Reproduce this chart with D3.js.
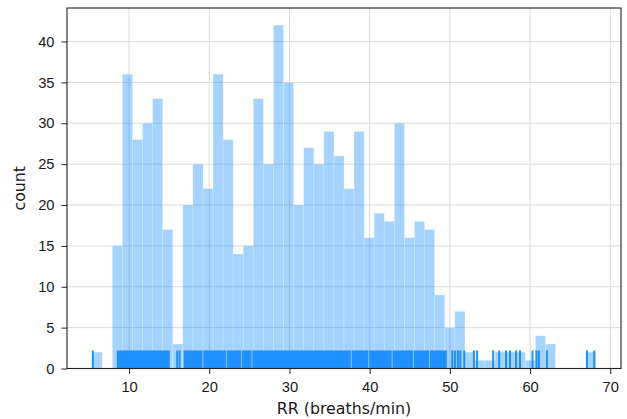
<!DOCTYPE html>
<html>
<head>
<meta charset="utf-8">
<script src="https://cdn.jsdelivr.net/npm/d3@7"></script>
<style>
  body { margin: 0; background: #fff; }
  svg { font-family: "DejaVu Sans", sans-serif; }
  .tick text { font-size: 14.7px; fill: #1a1a1a; }
  .axisTitle { font-size: 15.8px; fill: #1a1a1a; }
</style>
</head>
<body>
<div id="chart"></div>
<script>
// histogram: 50 bins starting at 5.4, width 1.256
var binStart = 5.4;
var binWidth = 1.256;
var counts = [2, 0, 15, 36, 28, 30, 33, 17, 3, 20,
              25, 22, 36, 28, 14, 15, 33, 25, 42, 35,
              20, 27, 25, 29, 26, 22, 29, 16, 19, 18,
              30, 16, 18, 17, 9, 5, 7, 2, 1, 1,
              2, 2, 2, 1, 4, 3, 0, 0, 0, 2];

// rug: solid stretches where ticks overlap, plus single ticks
var rugSpans = [[8.47, 15.07], [16.8, 19.16], [19.26, 22.08], [22.18, 23.95],
                [24.05, 25.27], [25.37, 37.65], [37.75, 39.84], [39.94, 42.75],
                [42.85, 45.40], [45.50, 47.40], [47.50, 49.62]];
var rugTicks = [5.48, 16.0, 16.3, 50.3, 50.65, 51.0, 51.3, 51.8, 53.0, 53.4,
                55.4, 56.15, 57.0, 57.5, 58.25, 58.75, 60.3, 60.8, 61.1, 62.1,
                67.1, 68.0];

var xTicks = [10, 20, 30, 40, 50, 60, 70];
var yTicks = [0, 5, 10, 15, 20, 25, 30, 35, 40];

var W = 627, H = 419;
var margin = {top: 8, right: 6, bottom: 50.5, left: 67},
    width = W - margin.left - margin.right,
    height = H - margin.top - margin.bottom;

var bins = counts.map(function(c, i) {
  return {x0: binStart + i * binWidth, x1: binStart + (i + 1) * binWidth, n: c};
});

var lo = binStart, hi = binStart + counts.length * binWidth;
var pad = 0.05 * (hi - lo);
var x = d3.scaleLinear().domain([lo - pad, hi + pad]).range([0, width]);
var y = d3.scaleLinear().domain([0, d3.max(counts) * 1.05]).range([height, 0]);

var svg = d3.select("#chart").append("svg")
    .attr("width", W)
    .attr("height", H)
  .append("g")
    .attr("transform", "translate(" + margin.left + "," + margin.top + ")");

// grid
svg.append("g").selectAll("line.gx")
    .data(xTicks).enter().append("line")
    .attr("x1", function(d) { return x(d); })
    .attr("x2", function(d) { return x(d); })
    .attr("y1", 0).attr("y2", height)
    .attr("stroke", "#d6d6d6").attr("stroke-width", 0.9);

svg.append("g").selectAll("line.gy")
    .data(yTicks).enter().append("line")
    .attr("y1", function(d) { return y(d); })
    .attr("y2", function(d) { return y(d); })
    .attr("x1", 0).attr("x2", width)
    .attr("stroke", "#d6d6d6").attr("stroke-width", 0.9);

// bars
svg.append("g").selectAll("rect")
    .data(bins.filter(function(d) { return d.n > 0; }))
    .enter().append("rect")
    .attr("x", function(d) { return x(d.x0); })
    .attr("width", function(d) { return x(d.x1) - x(d.x0); })
    .attr("y", function(d) { return y(d.n); })
    .attr("height", function(d) { return y(0) - y(d.n); })
    .attr("fill", "#1e90ff")
    .attr("fill-opacity", 0.4)
    .attr("stroke", "#fff")
    .attr("stroke-opacity", 0.25)
    .attr("stroke-width", 0.8);

// rug
var rugH = height * 0.05;
svg.append("g").selectAll("rect")
    .data(rugSpans).enter().append("rect")
    .attr("x", function(d) { return x(d[0]); })
    .attr("width", function(d) { return x(d[1]) - x(d[0]); })
    .attr("y", height - rugH)
    .attr("height", rugH)
    .attr("fill", "#1e90ff");

svg.append("g").selectAll("line")
    .data(rugTicks).enter().append("line")
    .attr("x1", function(d) { return x(d); })
    .attr("x2", function(d) { return x(d); })
    .attr("y1", height - rugH)
    .attr("y2", height)
    .attr("stroke", "#1e90ff")
    .attr("stroke-width", 2);

// frame
svg.append("rect")
    .attr("x", 0).attr("y", 0)
    .attr("width", width).attr("height", height)
    .attr("fill", "none")
    .attr("stroke", "#222")
    .attr("stroke-width", 1.1);

// axes
var xAxis = svg.append("g")
    .attr("transform", "translate(0," + height + ")")
    .call(d3.axisBottom(x).tickValues(xTicks).tickSize(5.5).tickPadding(8).tickSizeOuter(0));
xAxis.select(".domain").remove();

var yAxis = svg.append("g")
    .call(d3.axisLeft(y).tickValues(yTicks).tickSize(5.5).tickPadding(7).tickSizeOuter(0));
yAxis.select(".domain").remove();

svg.selectAll(".tick line").attr("stroke", "#222");

svg.append("text")
    .attr("class", "axisTitle")
    .attr("x", width / 2)
    .attr("y", height + 45.5)
    .style("text-anchor", "middle")
    .text("RR (breaths/min)");

svg.append("text")
    .attr("class", "axisTitle")
    .attr("transform", "translate(" + (25 - margin.left) + "," + (height / 2) + ") rotate(-90)")
    .style("text-anchor", "middle")
    .text("count");
</script>
</body>
</html>
